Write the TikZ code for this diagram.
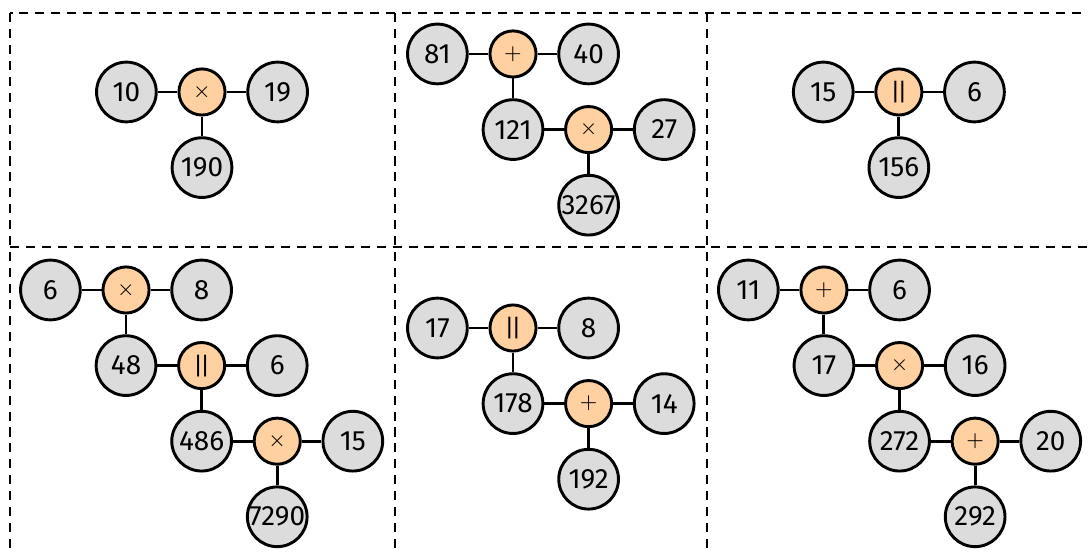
\documentclass[tikz,border=0pt]{standalone}
\usepackage{fontspec}
\setmainfont{Fira Sans}
\usetikzlibrary{positioning}
\definecolor{valgray}{HTML}{DCDCDC}
\definecolor{oporange}{HTML}{FFD0A0}
\tikzset{
val/.style={circle,draw,fill=valgray,minimum size=0.79cm,inner sep=0pt},
op/.style={circle,draw,fill=oporange,minimum size=0.61cm,inner sep=0pt,font=\fontsize{9}{10}\selectfont},
cell/.style={dash pattern=on 3.4pt off 2.6pt}
}
\newcommand{\parl}{|\kern-1pt|}
\newcommand{\mul}{{\fontsize{8}{9}\selectfont$\times$}}
\newcommand{\add}{{\fontsize{8}{9}\selectfont$+$}}

\begin{document}
\begin{tikzpicture}[line width=1.1pt,on grid,node distance=1cm,font=\fontsize{10.5}{12}\selectfont]
	\useasboundingbox (0,0) rectangle (14.392,-7.315);
	% cells
	\draw[cell] (0.132,-0.172) rectangle (14.45,-7.38);
	\draw[cell] (0.132,-3.267) -- (14.45,-3.267);
	\foreach \x in {5.225,9.352}{ \draw[cell] (\x,-0.172) -- (\x,-7.38);}

	% 10 x 19
	\node[op] (p1op) at (2.672,-1.217) {\mul};
	\node[val,left=of p1op] (p1a) {10};
	\node[val,right=of p1op] (p1b) {19};
	\node[val,below=of p1op] (p1r) {190};
	\draw (p1a) -- (p1op) -- (p1b);
	\draw (p1op) -- (p1r);

	% (81 + 40) x 27
	\node[op] (p2op1) at (6.786,-0.714) {\add};
	\node[val,left=of p2op1] (p2a) {81};
	\node[val,right=of p2op1] (p2b) {40};
	\node[val,below=of p2op1] (p2r1) {121};
	\node[op,right=of p2r1] (p2op2) {\mul};
	\node[val,right=of p2op2] (p2c) {27};
	\node[val,below=of p2op2] (p2r2) {\makebox[0pt]{3267}};
	\draw (p2a) -- (p2op1) -- (p2b);
	\draw (p2op1) -- (p2r1) -- (p2op2) -- (p2c);
	\draw (p2op2) -- (p2r2);

	% 15 || 6
	\node[op] (p3op) at (11.89,-1.217) {\parl};
	\node[val,left=of p3op] (p3a) {15};
	\node[val,right=of p3op] (p3b) {6};
	\node[val,below=of p3op] (p3r) {156};
	\draw (p3a) -- (p3op) -- (p3b);
	\draw (p3op) -- (p3r);

	% 6 x 8 || 6 x 15
	\node[op] (p4op1) at (1.667,-3.836) {\mul};
	\node[val,left=of p4op1] (p4a) {6};
	\node[val,right=of p4op1] (p4b) {8};
	\node[val,below=of p4op1] (p4r1) {48};
	\node[op,right=of p4r1] (p4op2) {\parl};
	\node[val,right=of p4op2] (p4c) {6};
	\node[val,below=of p4op2] (p4r2) {486};
	\node[op,right=of p4r2] (p4op3) {\mul};
	\node[val,right=of p4op3] (p4d) {15};
	\node[val,below=of p4op3] (p4r3) {\makebox[0pt]{7290}};
	\draw (p4a) -- (p4op1) -- (p4b);
	\draw (p4op1) -- (p4r1) -- (p4op2) -- (p4c);
	\draw (p4op2) -- (p4r2) -- (p4op3) -- (p4d);
	\draw (p4op3) -- (p4r3);

	% 17 || 8 + 14
	\node[op] (p5op1) at (6.786,-4.339) {\parl};
	\node[val,left=of p5op1] (p5a) {17};
	\node[val,right=of p5op1] (p5b) {8};
	\node[val,below=of p5op1] (p5r1) {178};
	\node[op,right=of p5r1] (p5op2) {\add};
	\node[val,right=of p5op2] (p5c) {14};
	\node[val,below=of p5op2] (p5r2) {192};
	\draw (p5a) -- (p5op1) -- (p5b);
	\draw (p5op1) -- (p5r1) -- (p5op2) -- (p5c);
	\draw (p5op2) -- (p5r2);

	% (11 + 6) x 16 + 20
	\node[op] (p6op1) at (10.899,-3.836) {\add};
	\node[val,left=of p6op1] (p6a) {11};
	\node[val,right=of p6op1] (p6b) {6};
	\node[val,below=of p6op1] (p6r1) {17};
	\node[op,right=of p6r1] (p6op2) {\mul};
	\node[val,right=of p6op2] (p6c) {16};
	\node[val,below=of p6op2] (p6r2) {272};
	\node[op,right=of p6r2] (p6op3) {\add};
	\node[val,right=of p6op3] (p6d) {20};
	\node[val,below=of p6op3] (p6r3) {292};
	\draw (p6a) -- (p6op1) -- (p6b);
	\draw (p6op1) -- (p6r1) -- (p6op2) -- (p6c);
	\draw (p6op2) -- (p6r2) -- (p6op3) -- (p6d);
	\draw (p6op3) -- (p6r3);
\end{tikzpicture}
\end{document}
